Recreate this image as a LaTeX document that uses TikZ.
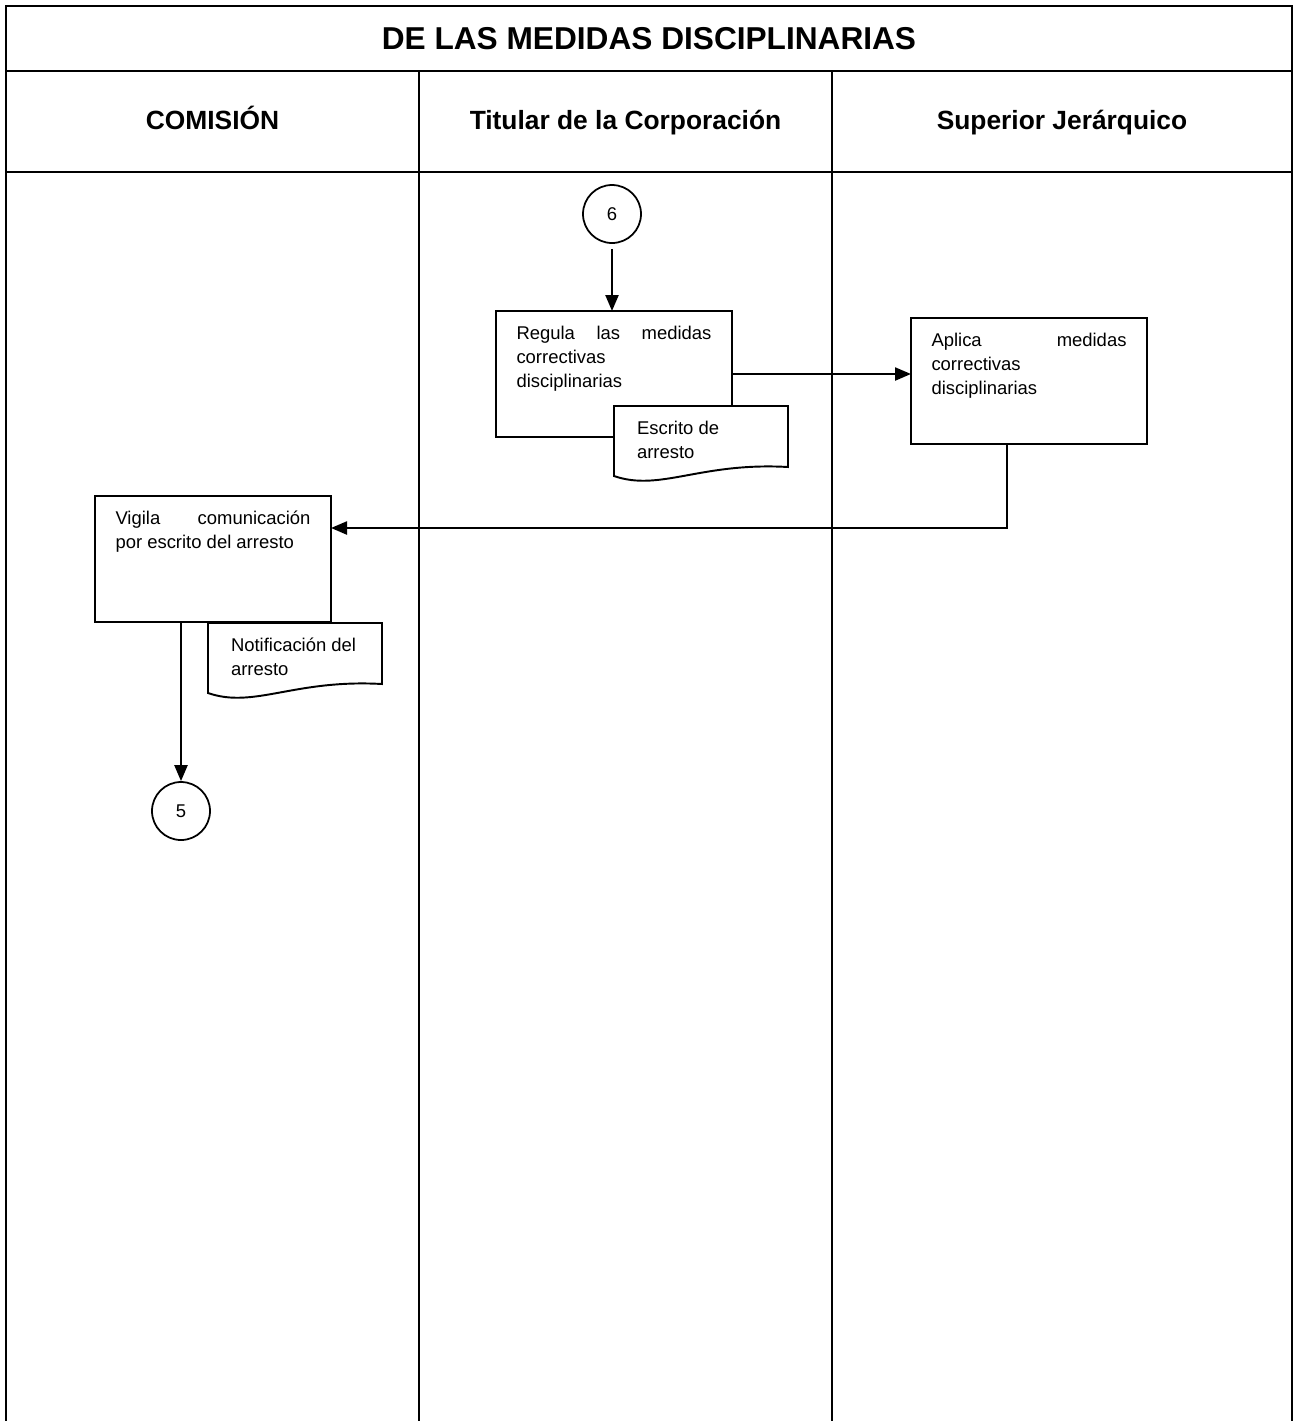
\documentclass[tikz,border=0pt]{standalone}
\usepackage{fontspec}
\setmainfont{Liberation Sans}
\usetikzlibrary{arrows.meta}

\begin{document}
\begin{tikzpicture}[>={Triangle[length=0.32cm,width=0.26cm]},
  font=\fontsize{10.5}{13.6}\selectfont,
  lane/.style={line width=1.5pt},
  head/.style={anchor=base, font=\fontsize{15}{18}\selectfont\bfseries},
  procbox/.style={draw, line width=1.1pt, anchor=north west, inner xsep=0.41cm, inner ysep=0.3cm, outer sep=0pt},
  docbox/.style={fill=white, anchor=north west, inner xsep=0.46cm, inner ysep=0.3cm, outer sep=0pt},
  docline/.style={line width=1.1pt},
  conn/.style={circle, draw, line width=1pt, minimum size=1.16cm, inner sep=0pt},
  flow/.style={line width=1.3pt}]

\useasboundingbox (0,0) rectangle (25.9,-28.42);

%--------------------
% Frame, title and lanes
%--------------------
\draw[lane] (0.12,-28.42) -- (0.12,-0.12) -- (25.84,-0.12) -- (25.84,-28.42);
\draw[lane] (0.12,-1.42) -- (25.84,-1.42);
\draw[lane] (0.12,-3.44) -- (25.84,-3.44);
\draw[lane] (8.38,-1.42) -- (8.38,-28.42);   % Comision | Titular
\draw[lane] (16.64,-1.42) -- (16.64,-28.42); % Titular | Superior

\node[anchor=base, font=\fontsize{18}{22}\selectfont\bfseries] (mainTitle) at (12.98,-0.98) {DE LAS MEDIDAS DISCIPLINARIAS};

\node[head] (laneCom) at (4.25,-2.58) {COMISIÓN};
\node[head] (laneTit) at (12.51,-2.58) {Titular de la Corporación};
\node[head] (laneSup) at (21.24,-2.58) {Superior Jerárquico};

%--------------------
% Titular de la Corporacion
%--------------------
\node[conn] (conSix) at (12.24,-4.28) {6};

\node[procbox] (regula) at (9.92,-6.22) {\parbox[c][1.92cm][t]{3.9cm}{Regula\hfill las\hfill medidas\\correctivas\\disciplinarias}};

% document over the box
\node[docbox] (escrito) at (12.28,-8.12) {\parbox[c][0.62cm][t]{2.56cm}{Escrito de\\arresto}};
\draw[docline] ([yshift=-0.18cm]escrito.south west) -- (escrito.north west) -- (escrito.north east) -- (escrito.south east)
  .. controls ([xshift=-1.76cm,yshift=0.1cm]escrito.south east) and ([xshift=0.92cm,yshift=-0.5cm]escrito.south west) .. ([yshift=-0.18cm]escrito.south west) -- cycle;

%--------------------
% Superior Jerarquico
%--------------------
\node[procbox] (aplica) at (18.22,-6.36) {\parbox[c][1.92cm][t]{3.9cm}{Aplica\hfill medidas\\correctivas\\disciplinarias}};

%--------------------
% Comision
%--------------------
\node[procbox] (vigila) at (1.90,-9.92) {\parbox[c][1.92cm][t]{3.9cm}{Vigila\hfill comunicación\\por escrito del arresto}};

\node[docbox] (notif) at (4.16,-12.46) {\parbox[c][0.62cm][t]{2.56cm}{Notificación del\\arresto}};
\draw[docline] ([yshift=-0.18cm]notif.south west) -- (notif.north west) -- (notif.north east) -- (notif.south east)
  .. controls ([xshift=-1.76cm,yshift=0.1cm]notif.south east) and ([xshift=0.92cm,yshift=-0.5cm]notif.south west) .. ([yshift=-0.18cm]notif.south west) -- cycle;

\node[conn] (conFive) at (3.62,-16.22) {5};

%--------------------
% Connectors
%--------------------
\coordinate (aplDrop) at (20.14,-10.56);

\draw[flow,->,shorten <=0.1cm] (conSix) -- (conSix |- regula.north);
\draw[flow,->] (regula.east) -- (regula.east -| aplica.west);
\draw[flow,->] (aplica.south -| aplDrop) -- (aplDrop) -- (aplDrop -| vigila.east);
\draw[flow,->] (vigila.south -| conFive) -- (conFive);

\end{tikzpicture}
\end{document}
